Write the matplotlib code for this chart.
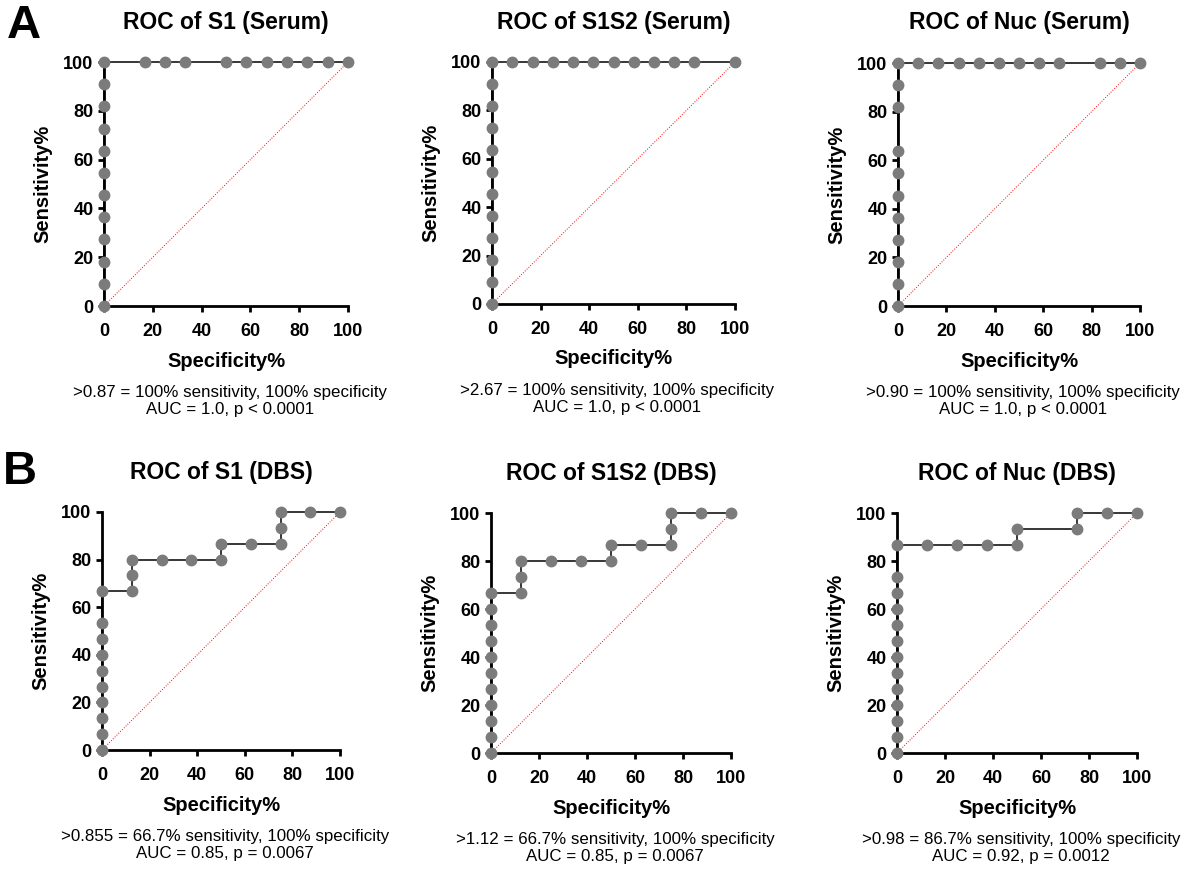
import matplotlib
matplotlib.use("Agg")
import matplotlib.pyplot as plt

plt.rcParams['font.family'] = ['Liberation Sans', 'DejaVu Sans']

# values (specificity %, sensitivity %)
s1_serum_spec = [0, 0, 0, 0, 0, 0, 0, 0, 0, 0, 0, 0, 16.67, 25, 33.33, 50, 58.33, 66.67, 75, 83.33, 91.67, 100]
s1_serum_sens = [0, 9.09, 18.18, 27.27, 36.36, 45.45, 54.55, 63.64, 72.73, 81.82, 90.91, 100, 100, 100, 100, 100, 100, 100, 100, 100, 100, 100]

s1s2_serum_spec = [0, 0, 0, 0, 0, 0, 0, 0, 0, 0, 0, 0, 8.33, 16.67, 25, 33.33, 41.67, 50, 58.33, 66.67, 75, 83.33, 100]
s1s2_serum_sens = [0, 9.09, 18.18, 27.27, 36.36, 45.45, 54.55, 63.64, 72.73, 81.82, 90.91, 100, 100, 100, 100, 100, 100, 100, 100, 100, 100, 100, 100]

nuc_serum_spec = [0, 0, 0, 0, 0, 0, 0, 0, 0, 0, 0, 8.33, 16.67, 25, 33.33, 41.67, 50, 58.33, 66.67, 83.33, 91.67, 100]
nuc_serum_sens = [0, 9.09, 18.18, 27.27, 36.36, 45.45, 54.55, 63.64, 81.82, 90.91, 100, 100, 100, 100, 100, 100, 100, 100, 100, 100, 100, 100]

s1_dbs_spec = [0, 0, 0, 0, 0, 0, 0, 0, 0, 0, 12.5, 12.5, 12.5, 25, 37.5, 50, 50, 62.5, 75, 75, 75, 87.5, 100]
s1_dbs_sens = [0, 6.67, 13.33, 20, 26.67, 33.33, 40, 46.67, 53.33, 66.67, 66.67, 73.33, 80, 80, 80, 80, 86.67, 86.67, 86.67, 93.33, 100, 100, 100]

s1s2_dbs_spec = [0, 0, 0, 0, 0, 0, 0, 0, 0, 0, 0, 12.5, 12.5, 12.5, 25, 37.5, 50, 50, 62.5, 75, 75, 75, 87.5, 100]
s1s2_dbs_sens = [0, 6.67, 13.33, 20, 26.67, 33.33, 40, 46.67, 53.33, 60, 66.67, 66.67, 73.33, 80, 80, 80, 80, 86.67, 86.67, 86.67, 93.33, 100, 100, 100]

nuc_dbs_spec = [0, 0, 0, 0, 0, 0, 0, 0, 0, 0, 0, 0, 0, 12.5, 25, 37.5, 50, 50, 75, 75, 87.5, 100]
nuc_dbs_sens = [0, 6.67, 13.33, 20, 26.67, 33.33, 40, 46.67, 53.33, 60, 66.67, 73.33, 86.67, 86.67, 86.67, 86.67, 86.67, 93.33, 93.33, 100, 100, 100]

titles = ["ROC of S1 (Serum)", "ROC of S1S2 (Serum)", "ROC of Nuc (Serum)",
          "ROC of S1 (DBS)", "ROC of S1S2 (DBS)", "ROC of Nuc (DBS)"]
notes = [">0.87 = 100% sensitivity, 100% specificity\nAUC = 1.0, p < 0.0001",
         ">2.67 = 100% sensitivity, 100% specificity\nAUC = 1.0, p < 0.0001",
         ">0.90 = 100% sensitivity, 100% specificity\nAUC = 1.0, p < 0.0001",
         ">0.855 = 66.7% sensitivity, 100% specificity\nAUC = 0.85, p = 0.0067",
         ">1.12 = 66.7% sensitivity, 100% specificity\nAUC = 0.85, p = 0.0067",
         ">0.98 = 86.7% sensitivity, 100% specificity\nAUC = 0.92, p = 0.0012"]
curves = [(s1_serum_spec, s1_serum_sens), (s1s2_serum_spec, s1s2_serum_sens), (nuc_serum_spec, nuc_serum_sens),
          (s1_dbs_spec, s1_dbs_sens), (s1s2_dbs_spec, s1s2_dbs_sens), (nuc_dbs_spec, nuc_dbs_sens)]
ticks = [0, 20, 40, 60, 80, 100]

W, H = 1191, 871
# axes boxes in pixels: left, right, top, bottom
boxes = [(104, 348, 62, 306), (492, 735, 62, 304), (898, 1140, 63, 306),
         (102, 340, 512, 750), (491, 731, 513, 753), (897, 1137, 513, 753)]

fig = plt.figure(figsize=(W / 100, H / 100), dpi=100)

for i in range(6):
    l, r, t, b = boxes[i]
    ax = fig.add_axes([l / W, 1 - b / H, (r - l) / W, (b - t) / H])
    ax.plot([0, 100], [0, 100], color='red', lw=0.7, ls=':', zorder=2, clip_on=False)
    xs, ys = curves[i]
    ax.plot(xs, ys, '-o', color='black', lw=1.1, ms=7.5, mfc='#7b7b7b', mec='#7b7b7b',
            zorder=3, clip_on=False)
    ax.set_xlim(0, 100)
    ax.set_ylim(0, 100)
    ax.set_xticks(ticks)
    ax.set_yticks(ticks)
    for side in ['top', 'right']:
        ax.spines[side].set_visible(False)
    for side in ['left', 'bottom']:
        ax.spines[side].set_linewidth(2)
    ax.tick_params(direction='out', length=4.5, width=2, labelsize=13)
    ax.tick_params(axis='x', pad=8)
    ax.tick_params(axis='y', pad=3)
    for lab in ax.get_xticklabels() + ax.get_yticklabels():
        lab.set_fontweight('bold')

    cx = (l + r) / 2
    fig.text(cx / W, 1 - (t - 40) / H, titles[i], ha='center', va='center',
             fontsize=16.5, fontweight='bold')
    fig.text(cx / W, 1 - (b + 55) / H, "Specificity%", ha='center', va='center',
             fontsize=14.5, fontweight='bold')
    fig.text((l - 61) / W, 1 - ((t + b) / 2) / H, "Sensitivity%", ha='center', va='center',
             fontsize=14.5, fontweight='bold', rotation=90)
    fig.text((cx + 4) / W, 1 - (b + 95) / H, notes[i], ha='center', va='center',
             fontsize=12.2, linespacing=1.1)

fig.text(24 / W, 1 - 26 / H, "A", ha='center', va='center', fontsize=34, fontweight='bold')
fig.text(20 / W, 1 - 472 / H, "B", ha='center', va='center', fontsize=34, fontweight='bold')

fig.savefig("out.png", dpi=100)
